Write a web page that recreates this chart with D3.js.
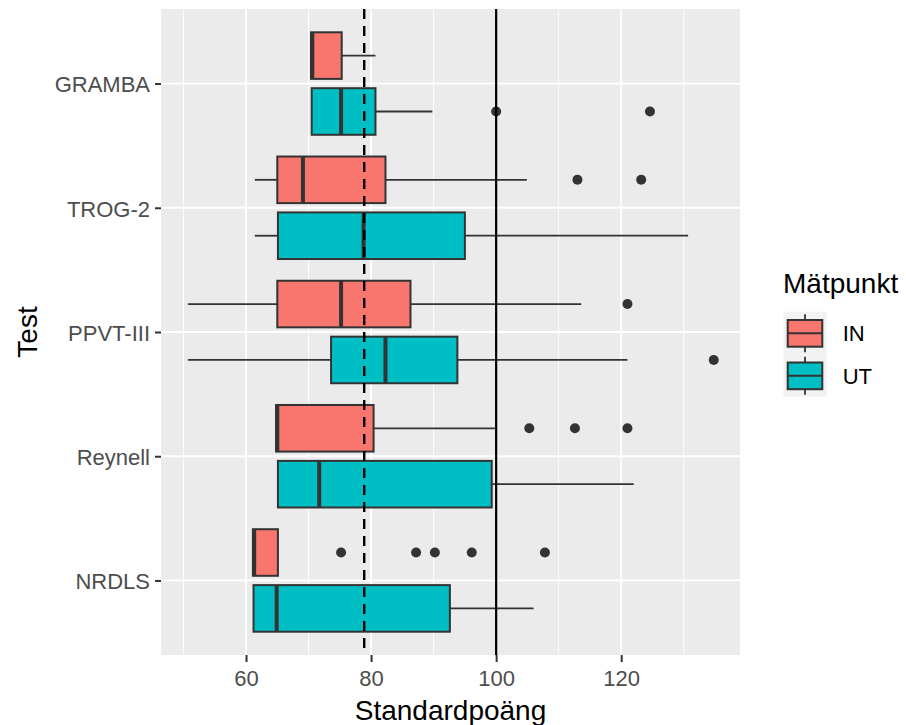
<!DOCTYPE html>
<html>
<head>
<meta charset="utf-8">
<script src="https://cdn.jsdelivr.net/npm/d3@7"></script>
<style>
  html, body { margin: 0; padding: 0; background: #ffffff; }
  svg { display: block; font-family: "Liberation Sans", Arial, sans-serif; }
</style>
</head>
<body>
<svg id="chart" width="906" height="725"></svg>
<script>
// ---------------- data ----------------
const categories = ["GRAMBA", "TROG-2", "PPVT-III", "Reynell", "NRDLS"];
const groups = ["IN", "UT"];

// IN (Mätpunkt) box statistics per category
const inMin    = [70.4, 61.4, 50.7, 64.8, 61.1];
const inQ1     = [70.4, 65.0, 65.0, 64.8, 61.1];
const inMedian = [70.6, 69.1, 75.2, 65.0, 61.3];
const inQ3     = [75.3, 82.3, 86.3, 80.4, 65.1];
const inMax    = [80.7, 104.9, 113.6, 99.8, 65.1];
const inOutliers = [[], [113.0, 123.2], [121.0], [105.3, 112.6, 121.0], [75.2, 87.2, 90.2, 96.1, 107.8]];

// UT (Mätpunkt) box statistics per category
const utMin    = [70.5, 61.4, 50.7, 65.1, 61.2];
const utQ1     = [70.5, 65.1, 73.6, 65.1, 61.2];
const utMedian = [75.2, 78.8, 82.3, 71.7, 64.9];
const utQ3     = [80.7, 95.0, 93.8, 99.3, 92.6];
const utMax    = [89.8, 130.7, 121.0, 122.0, 106.0];
const utOutliers = [[100.0, 124.6], [], [134.8], [], []];

const xTicks = [60, 80, 100, 120];
const xMinorTicks = [50, 70, 90, 110, 130];
const dashedRef = 78.9;
const solidRef = 100;

const xTitle = "Standardpoäng";
const yTitle = "Test";
const legendTitle = "Mätpunkt";

// ---------------- layout ----------------
const svg = d3.select("#chart");
const panel = { left: 161, right: 740, top: 9, bottom: 655 };
const colors = { IN: "#F8766D", UT: "#00BFC4" };
const outline = "#333333";

const x = d3.scaleLinear().domain([46.4, 139.0]).range([panel.left, panel.right]);
const y = d3.scalePoint().domain(categories).range([panel.top, panel.bottom]).padding(0.6);
const step = y.step();
const dodge = { IN: -0.225 * step, UT: 0.225 * step };
const halfH = 0.1875 * step;

// panel background
svg.append("rect")
  .attr("x", panel.left).attr("y", panel.top)
  .attr("width", panel.right - panel.left).attr("height", panel.bottom - panel.top)
  .attr("fill", "#EBEBEB");

const grid = svg.append("g");
grid.selectAll("line.minor").data(xMinorTicks).enter().append("line")
  .attr("x1", d => x(d)).attr("x2", d => x(d))
  .attr("y1", panel.top).attr("y2", panel.bottom)
  .attr("stroke", "#ffffff").attr("stroke-width", 0.9);
grid.selectAll("line.majorx").data(xTicks).enter().append("line")
  .attr("x1", d => x(d)).attr("x2", d => x(d))
  .attr("y1", panel.top).attr("y2", panel.bottom)
  .attr("stroke", "#ffffff").attr("stroke-width", 1.8);
grid.selectAll("line.majory").data(categories).enter().append("line")
  .attr("x1", panel.left).attr("x2", panel.right)
  .attr("y1", d => y(d)).attr("y2", d => y(d))
  .attr("stroke", "#ffffff").attr("stroke-width", 1.8);

// build box records
const stats = {
  IN: { min: inMin, q1: inQ1, med: inMedian, q3: inQ3, max: inMax, out: inOutliers },
  UT: { min: utMin, q1: utQ1, med: utMedian, q3: utQ3, max: utMax, out: utOutliers }
};
const boxes = [];
groups.forEach(g => {
  categories.forEach((c, i) => {
    const s = stats[g];
    boxes.push({ g, c, min: s.min[i], q1: s.q1[i], med: s.med[i], q3: s.q3[i], max: s.max[i], out: s.out[i] });
  });
});

const bg = svg.append("g");
const box = bg.selectAll("g.box").data(boxes).enter().append("g")
  .attr("transform", d => `translate(0,${y(d.c) + dodge[d.g]})`);

box.append("line")
  .attr("x1", d => x(d.min)).attr("x2", d => x(d.q1))
  .attr("y1", 0).attr("y2", 0)
  .attr("stroke", outline).attr("stroke-width", 1.8);
box.append("line")
  .attr("x1", d => x(d.q3)).attr("x2", d => x(d.max))
  .attr("y1", 0).attr("y2", 0)
  .attr("stroke", outline).attr("stroke-width", 1.8);
box.append("rect")
  .attr("x", d => x(d.q1)).attr("width", d => x(d.q3) - x(d.q1))
  .attr("y", -halfH).attr("height", 2 * halfH)
  .attr("fill", d => colors[d.g])
  .attr("stroke", outline).attr("stroke-width", 2);
box.append("line")
  .attr("x1", d => x(d.med)).attr("x2", d => x(d.med))
  .attr("y1", -halfH).attr("y2", halfH)
  .attr("stroke", outline).attr("stroke-width", 4);
box.selectAll("circle").data(d => d.out).enter().append("circle")
  .attr("cx", d => x(d)).attr("cy", 0).attr("r", 5)
  .attr("fill", outline);

// reference lines
svg.append("line")
  .attr("x1", x(dashedRef)).attr("x2", x(dashedRef))
  .attr("y1", panel.top).attr("y2", panel.bottom)
  .attr("stroke", "#000").attr("stroke-width", 2.4)
  .attr("stroke-dasharray", "10,7");
svg.append("line")
  .attr("x1", x(solidRef)).attr("x2", x(solidRef))
  .attr("y1", panel.top).attr("y2", panel.bottom)
  .attr("stroke", "#000").attr("stroke-width", 2.2);

// axes
const xAxis = svg.append("g")
  .attr("transform", `translate(0,${panel.bottom})`)
  .call(d3.axisBottom(x).tickValues(xTicks).tickSize(7).tickPadding(8).tickFormat(d3.format("d")));
const yAxis = svg.append("g")
  .attr("transform", `translate(${panel.left},0)`)
  .call(d3.axisLeft(y).tickSize(6).tickPadding(5));
[xAxis, yAxis].forEach(a => {
  a.select(".domain").remove();
  a.selectAll(".tick line").attr("stroke", outline).attr("stroke-width", 2);
  a.selectAll(".tick text")
    .attr("fill", "#4D4D4D")
    .style("font-size", "22px")
    .style("font-family", '"Liberation Sans", Arial, sans-serif');
});
yAxis.selectAll(".tick text").attr("dy", "0.38em");

// axis titles
svg.append("text")
  .attr("x", (panel.left + panel.right) / 2).attr("y", 720)
  .attr("text-anchor", "middle")
  .style("font-size", "28px").attr("fill", "#000")
  .text(xTitle);
svg.append("text")
  .attr("transform", `translate(36.5,${(panel.top + panel.bottom) / 2}) rotate(-90)`)
  .attr("text-anchor", "middle")
  .style("font-size", "28px").attr("fill", "#000")
  .text(yTitle);

// legend
const legend = svg.append("g");
legend.append("text")
  .attr("x", 783).attr("y", 293)
  .style("font-size", "28px").attr("fill", "#000")
  .text(legendTitle);
const keyX = 783.3, keyW = 43.4, keyH = 42.5, keyTop = 311.7;
const keys = legend.selectAll("g.key").data(groups).enter().append("g")
  .attr("transform", (d, i) => `translate(${keyX},${keyTop + i * keyH})`);
keys.append("rect")
  .attr("x", 0).attr("y", 0).attr("width", keyW).attr("height", keyH)
  .attr("fill", "#F2F2F2");
keys.append("line")
  .attr("x1", keyW / 2).attr("x2", keyW / 2)
  .attr("y1", 2.6).attr("y2", keyH - 2)
  .attr("stroke", outline).attr("stroke-width", 1.8);
keys.append("rect")
  .attr("x", 4.4).attr("y", 8.3).attr("width", keyW - 8.8).attr("height", 26.7)
  .attr("fill", d => colors[d])
  .attr("stroke", outline).attr("stroke-width", 2);
keys.append("line")
  .attr("x1", 4.4).attr("x2", keyW - 4.4)
  .attr("y1", 21.6).attr("y2", 21.6)
  .attr("stroke", outline).attr("stroke-width", 2);
keys.append("text")
  .attr("x", 842.7 - keyX).attr("y", 21.6 + 8)
  .style("font-size", "22px").attr("fill", "#000")
  .text(d => d);
</script>
</body>
</html>
